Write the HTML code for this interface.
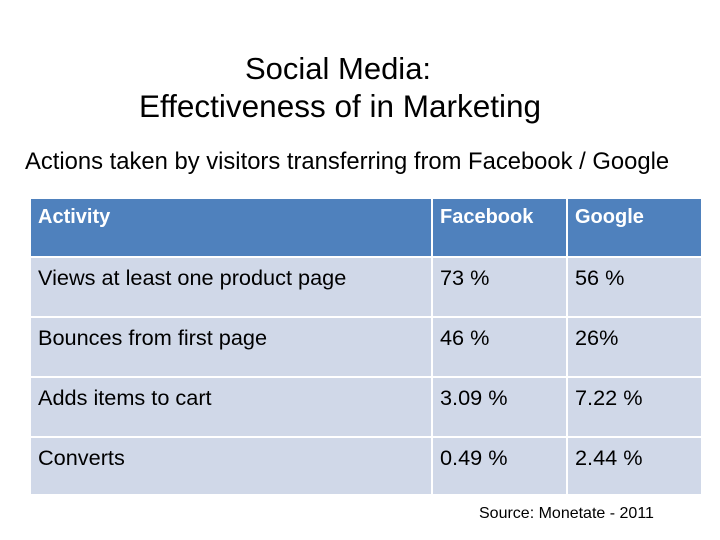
<!DOCTYPE html>
<html><head><meta charset="utf-8"><style>
html,body{margin:0;padding:0;background:#fff;width:720px;height:540px;overflow:hidden;position:relative;font-family:"Liberation Sans",sans-serif}
.t{position:absolute;color:#000;white-space:nowrap}
.c{position:absolute;box-sizing:border-box;padding:7px 0 0 7px;font-size:21.7px;color:#000;background:#D0D8E8;white-space:nowrap}
.h{background:#4F81BD;color:#fff;font-weight:bold;font-size:20px}
</style></head><body>
<div class="t" style="left:0;width:676px;text-align:center;top:51px;font-size:31px">Social Media:</div>
<div class="t" style="left:0;width:680px;text-align:center;top:88px;font-size:31.5px">Effectiveness of in Marketing</div>
<div class="t" style="left:25px;top:148px;font-size:23.8px">Actions taken by visitors transferring from Facebook / Google</div>
<div id="tbl"></div>
<div class="t" style="left:479px;top:505px;font-size:16px">Source: Monetate - 2011</div>
<script>
const headers=["Activity","Facebook","Google"];
const activities=["Views at least one product page","Bounces from first page","Adds items to cart","Converts"];
const facebook=["73 %","46 %","3.09 %","0.49 %"];
const google=["56 %","26%","7.22 %","2.44 %"];
const colX=[31,433,568,703];
const rowY=[199,258,318,378,438,496];
const tbl=document.getElementById('tbl');
function cell(r,c,text,hdr){
  const d=document.createElement('div');
  d.className='c'+(hdr?' h':'');
  d.style.left=colX[c]+'px';d.style.top=rowY[r]+'px';
  d.style.width=(colX[c+1]-colX[c]-2)+'px';d.style.height=(rowY[r+1]-rowY[r]-2)+'px';
  d.textContent=text;
  
  
  tbl.appendChild(d);
}
headers.forEach((h,i)=>cell(0,i,h,true));
activities.forEach((a,i)=>{cell(i+1,0,a);cell(i+1,1,facebook[i]);cell(i+1,2,google[i]);});
</script>
</body></html>
